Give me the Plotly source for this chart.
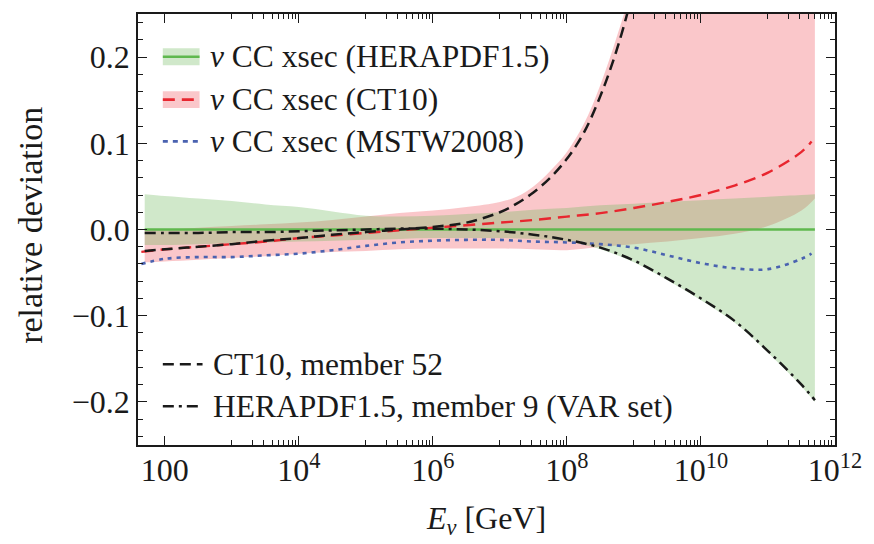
import plotly.graph_objects as go

# ---- data: relative deviation of the nu CC cross section vs. log10(E / GeV) ----
LOG_E = [1.7, 2.0, 2.5, 3.0, 3.5, 4.0, 4.5, 5.0, 5.5, 6.0, 6.5,
         7.0, 7.5, 8.0, 8.5, 9.0, 9.5, 10.0, 10.5, 11.0, 11.5, 11.7]

HERA_CENTRAL = [0.0, 0.0, 0.0, 0.0, 0.0, 0.0, 0.0, 0.0, 0.0, 0.0, 0.0,
                0.0, 0.0, 0.0, 0.0, 0.0, 0.0, 0.0, 0.0, 0.0, 0.0, 0.0]
HERA_UP = [0.041, 0.039, 0.036, 0.033, 0.029, 0.026, 0.021, 0.016, 0.015, 0.016, 0.018,
           0.020, 0.023, 0.025, 0.028, 0.030, 0.032, 0.034, 0.036, 0.038, 0.040, 0.041]
HERA_DN = [-0.018, -0.018, -0.017, -0.016, -0.015, -0.014, -0.013, -0.012, -0.011, -0.010, -0.010,
           -0.010, -0.011, -0.014, -0.023, -0.038, -0.059, -0.082, -0.108, -0.143, -0.182, -0.200]
HERA_MEMBER9 = [-0.004, -0.004, -0.004, -0.003, -0.003, -0.002, -0.001, 0.000, 0.001, 0.001, 0.000,
                -0.002, -0.006, -0.012, -0.021, -0.036, -0.057, -0.080, -0.106, -0.141, -0.180, -0.198]
CT10_DN = [-0.038, -0.037, -0.035, -0.033, -0.031, -0.028, -0.026, -0.025, -0.023, -0.022, -0.022,
           -0.022, -0.023, -0.024, -0.020, -0.017, -0.014, -0.010, -0.005, 0.004, 0.022, 0.036]

LOG_E_CT10_UP = [1.7, 2.0, 2.5, 3.0, 3.5, 4.0, 4.5, 5.0, 5.5, 6.0, 6.5, 7.0, 7.25,
                 7.5, 7.75, 8.0, 8.25, 8.5, 8.75, 9.0, 9.5, 10.0, 10.5, 11.0, 11.5, 11.7]
CT10_UP = [-0.001, 0.000, 0.002, 0.004, 0.006, 0.008, 0.011, 0.015, 0.019, 0.022, 0.026, 0.032, 0.038,
           0.050, 0.068, 0.090, 0.122, 0.168, 0.225, 0.290, 0.450, 0.650, 0.900, 1.200, 1.500, 1.600]

LOG_E_M52 = [1.7, 2.0, 2.5, 3.0, 3.5, 4.0, 4.5, 5.0, 5.5, 6.0, 6.5,
             7.0, 7.25, 7.5, 7.75, 8.0, 8.25, 8.5, 8.75, 9.0, 9.25]
CT10_MEMBER52 = [-0.025, -0.023, -0.020, -0.017, -0.013, -0.010, -0.006, -0.003, 0.000, 0.003, 0.008,
                 0.020, 0.030, 0.043, 0.060, 0.082, 0.112, 0.155, 0.210, 0.280, 0.360]

LOG_E_LINES = [1.65, 2.0, 2.5, 3.0, 3.5, 4.0, 4.5, 5.0, 5.5, 6.0, 6.5,
               7.0, 7.5, 8.0, 8.5, 9.0, 9.5, 10.0, 10.5, 11.0, 11.5, 11.65]
CT10_CENTRAL = [-0.026, -0.023, -0.020, -0.017, -0.014, -0.010, -0.007, -0.004, -0.001, 0.002, 0.005,
                0.008, 0.011, 0.015, 0.019, 0.025, 0.032, 0.040, 0.051, 0.066, 0.090, 0.102]
MSTW_CENTRAL = [-0.040, -0.034, -0.032, -0.032, -0.030, -0.028, -0.024, -0.019, -0.015, -0.013, -0.012,
                -0.012, -0.014, -0.015, -0.017, -0.021, -0.030, -0.039, -0.045, -0.046, -0.034, -0.028]

X_TICK_VALS = [1e2, 1e4, 1e6, 1e8, 1e10, 1e12]
X_TICK_TEXT = ["100", "10<sup>4</sup>", "10<sup>6</sup>", "10<sup>8</sup>",
               "10<sup>10</sup>", "10<sup>12</sup>"]
Y_TICK_VALS = [-0.2, -0.1, 0.0, 0.1, 0.2]
Y_TICK_TEXT = ["\u22120.2", "\u22120.1", "0.0", "0.1", "0.2"]

LEGEND_TOP = ["<i>\u03bd</i> CC xsec (HERAPDF1.5)",
              "<i>\u03bd</i> CC xsec (CT10)",
              "<i>\u03bd</i> CC xsec (MSTW2008)"]
LEGEND_BOTTOM = ["CT10, member 52", "HERAPDF1.5, member 9 (VAR set)"]

# ---- styling ----
FONT = "Liberation Serif, Times New Roman, serif"
FS_TICK = 32
FS_LEG = 31.5
FS_TITLE = 34
INK = "#1a1a1a"
GREEN = "#5fb84e"
GREEN_FILL = "rgba(110,185,90,0.32)"
RED = "#e8262f"
RED_FILL = "rgba(238,70,80,0.30)"
BLUE = "#4a62b0"

W, H = 874, 544
ML, MR, MT, MB = 138, 34, 12, 99
PW, PH = W - ML - MR, H - MT - MB


def e_gev(logs):
    return [10 ** v for v in logs]


def px(x):
    return (x - ML) / PW


def py(y):
    return (H - MB - y) / PH


fig = go.Figure()

# CT10 uncertainty band
fig.add_trace(go.Scatter(x=e_gev(LOG_E), y=CT10_DN, mode="lines", line=dict(width=0, shape="spline"),
                         hoverinfo="skip", showlegend=False))
fig.add_trace(go.Scatter(x=e_gev(LOG_E_CT10_UP), y=CT10_UP, mode="lines",
                         line=dict(width=0, shape="spline"),
                         fill="tonexty", fillcolor=RED_FILL, hoverinfo="skip", showlegend=False))
# HERAPDF1.5 uncertainty band
fig.add_trace(go.Scatter(x=e_gev(LOG_E), y=HERA_DN, mode="lines", line=dict(width=0, shape="spline"),
                         hoverinfo="skip", showlegend=False))
fig.add_trace(go.Scatter(x=e_gev(LOG_E), y=HERA_UP, mode="lines", line=dict(width=0, shape="spline"),
                         fill="tonexty", fillcolor=GREEN_FILL, hoverinfo="skip", showlegend=False))

# central curves
fig.add_trace(go.Scatter(x=e_gev(LOG_E), y=HERA_CENTRAL, mode="lines",
                         line=dict(color=GREEN, width=2.4), showlegend=False))
fig.add_trace(go.Scatter(x=e_gev(LOG_E_LINES), y=CT10_CENTRAL, mode="lines",
                         line=dict(color=RED, width=2.4, dash="12px,7px", shape="spline"),
                         showlegend=False))
fig.add_trace(go.Scatter(x=e_gev(LOG_E_LINES), y=MSTW_CENTRAL, mode="lines",
                         line=dict(color=BLUE, width=2.6, dash="4px,5px", shape="spline"),
                         showlegend=False))

# individual PDF members
fig.add_trace(go.Scatter(x=e_gev(LOG_E_M52), y=CT10_MEMBER52, mode="lines",
                         line=dict(color=INK, width=2.5, dash="11px,6px", shape="spline"),
                         showlegend=False))
fig.add_trace(go.Scatter(x=e_gev(LOG_E), y=HERA_MEMBER9, mode="lines",
                         line=dict(color=INK, width=2.5, dash="11px,5px,3px,5px", shape="spline"),
                         showlegend=False))

# ---- legends (drawn in paper coordinates) ----
shapes = []
annotations = []
top_rows = [55, 98, 140]
top_styles = [
    dict(fill=GREEN_FILL, color=GREEN, dash="solid", width=2.6),
    dict(fill=RED_FILL, color=RED, dash="12px,7px", width=2.6),
    dict(fill=None, color=BLUE, dash="5px,5px", width=2.6),
]
for yc, st, label in zip(top_rows, top_styles, LEGEND_TOP):
    if st["fill"]:
        shapes.append(dict(type="rect", xref="paper", yref="paper",
                           x0=px(163), x1=px(200), y0=py(yc + 8.5), y1=py(yc - 8.5),
                           fillcolor=st["fill"], line=dict(width=0), layer="above"))
    shapes.append(dict(type="line", xref="paper", yref="paper",
                       x0=px(163), x1=px(200), y0=py(yc), y1=py(yc),
                       line=dict(color=st["color"], width=st["width"], dash=st["dash"]), layer="above"))
    annotations.append(dict(xref="paper", yref="paper", x=px(209), y=py(yc), text=label,
                            showarrow=False, xanchor="left", yanchor="middle",
                            font=dict(family=FONT, size=FS_LEG, color=INK)))

bottom_rows = [364, 406]
bottom_dash = ["11px,6px", "11px,5px,3px,5px"]
for yc, dash, label in zip(bottom_rows, bottom_dash, LEGEND_BOTTOM):
    shapes.append(dict(type="line", xref="paper", yref="paper",
                       x0=px(163), x1=px(203), y0=py(yc), y1=py(yc),
                       line=dict(color=INK, width=2.5, dash=dash), layer="above"))
    annotations.append(dict(xref="paper", yref="paper", x=px(212), y=py(yc), text=label,
                            showarrow=False, xanchor="left", yanchor="middle",
                            font=dict(family=FONT, size=FS_LEG, color=INK)))

# y-axis title
annotations.append(dict(xref="paper", yref="paper", x=px(29), y=py(224), text="relative deviation",
                        textangle=-90, showarrow=False, xanchor="center", yanchor="middle",
                        font=dict(family=FONT, size=FS_TITLE, color=INK)))

minor_x = [k * 10 ** d for d in (3, 5, 7, 9, 11) for k in range(1, 10)]

fig.update_layout(
    width=W, height=H,
    margin=dict(l=ML, r=MR, t=MT, b=MB),
    paper_bgcolor="white", plot_bgcolor="white",
    font=dict(family=FONT, size=FS_TICK, color=INK),
    showlegend=False,
    shapes=shapes,
    annotations=annotations,
    xaxis=dict(
        type="log", range=[1.6, 12], showgrid=False, zeroline=False,
        showline=True, linecolor=INK, linewidth=1.5, mirror="allticks",
        ticks="inside", ticklen=9, tickwidth=1.2, tickcolor=INK,
        tickvals=X_TICK_VALS, ticktext=X_TICK_TEXT, ticklabelstandoff=-4,
        tickfont=dict(family=FONT, size=FS_TICK, color=INK),
        minor=dict(tickvals=minor_x, ticks="inside", ticklen=5, tickwidth=1, tickcolor=INK),
        title=dict(text="<i>E</i><sub><i>\u03bd</i></sub> [GeV]",
                   font=dict(family=FONT, size=FS_TICK, color=INK), standoff=19),
    ),
    yaxis=dict(
        range=[-0.25, 0.25], showgrid=False, zeroline=False,
        showline=True, linecolor=INK, linewidth=1.5, mirror="allticks",
        ticks="inside", ticklen=9, tickwidth=1.2, tickcolor=INK,
        tickvals=Y_TICK_VALS, ticktext=Y_TICK_TEXT,
        tickfont=dict(family=FONT, size=FS_TICK, color=INK),
        minor=dict(dtick=0.02, ticks="inside", ticklen=5, tickwidth=1, tickcolor=INK),
    ),
)

fig.write_html("out.html")
